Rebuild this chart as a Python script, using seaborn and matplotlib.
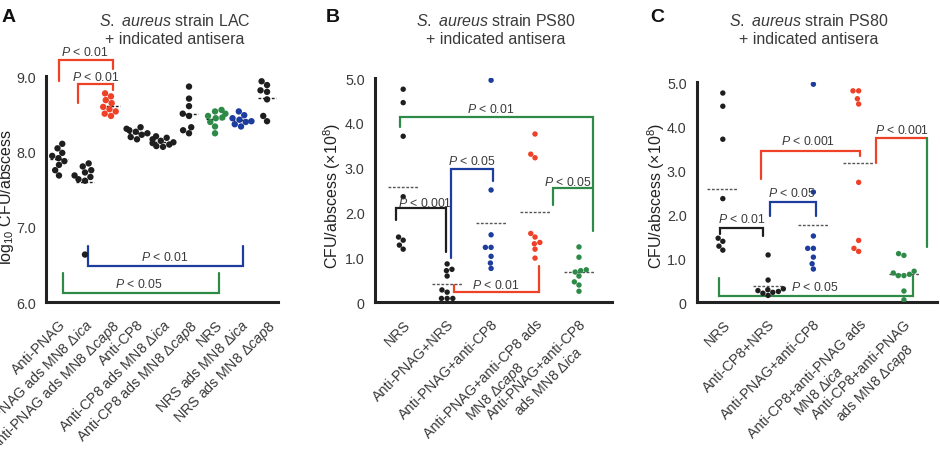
import numpy as np
import pandas as pd
import seaborn as sns
import matplotlib.pyplot as plt

sns.set_style('white')
plt.rcParams['font.family'] = ['Liberation Sans', 'DejaVu Sans']
plt.rcParams['mathtext.fontset'] = 'custom'
plt.rcParams['mathtext.rm'] = 'Liberation Sans'
plt.rcParams['mathtext.it'] = 'Liberation Sans:italic'

BLACK = '#1e1e1e'
RED = '#ee4128'
BLUE = '#1c3c9e'
GREEN = '#2e8b47'
TXT = '#3a3a3a'

# ---- panel A: strain LAC, log10 CFU/abscess
a_labels = ['Anti-PNAG', r'Anti-PNAG ads MN8 Δ$\it{ica}$', r'Anti-PNAG ads MN8 Δ$\it{cap8}$',
            'Anti-CP8', r'Anti-CP8 ads MN8 Δ$\it{ica}$', r'Anti-CP8 ads MN8 Δ$\it{cap8}$',
            'NRS', r'NRS ads MN8 Δ$\it{ica}$', r'NRS ads MN8 Δ$\it{cap8}$']
a_colors = [BLACK, BLACK, RED, BLACK, BLACK, BLACK, GREEN, BLUE, BLACK]
a_values = [[8.10, 8.04, 7.98, 7.94, 7.91, 7.87, 7.82, 7.75, 7.68],
            [7.84, 7.80, 7.75, 7.72, 7.68, 7.66, 7.63, 7.61, 6.63],
            [8.77, 8.73, 8.68, 8.64, 8.59, 8.56, 8.53, 8.50, 8.47],
            [8.32, 8.30, 8.28, 8.26, 8.24, 8.22, 8.19, 8.16],
            [8.20, 8.18, 8.16, 8.14, 8.12, 8.11, 8.09, 8.07, 8.06],
            [8.86, 8.70, 8.60, 8.50, 8.47, 8.32, 8.28, 8.24],
            [8.55, 8.53, 8.50, 8.47, 8.45, 8.44, 8.39, 8.33, 8.24],
            [8.53, 8.48, 8.44, 8.42, 8.40, 8.39, 8.36, 8.33],
            [8.93, 8.88, 8.81, 8.79, 8.69, 8.47, 8.40]]

# ---- panel B: strain PS80, CFU/abscess (x10^8)
b_labels = ['NRS', 'Anti-PNAG+NRS', 'Anti-PNAG+anti-CP8',
            'Anti-PNAG+anti-CP8 ads\n' + r'MN8 Δ$\it{cap8}$',
            'Anti-PNAG+anti-CP8\n' + r'ads MN8 Δ$\it{ica}$']
b_colors = [BLACK, BLACK, BLUE, RED, GREEN]
b_values = [[4.75, 4.45, 3.70, 2.35, 1.45, 1.38, 1.27, 1.18],
            [0.85, 0.73, 0.70, 0.58, 0.27, 0.22, 0.08, 0.08, 0.08],
            [4.95, 2.50, 1.50, 1.22, 1.22, 1.02, 0.87, 0.75],
            [3.75, 3.30, 3.22, 1.53, 1.45, 1.33, 1.30, 1.18, 0.98],
            [1.23, 1.00, 0.72, 0.70, 0.67, 0.58, 0.45, 0.38, 0.24]]

# ---- panel C: strain PS80, CFU/abscess (x10^8)
c_labels = ['NRS', 'Anti-CP8+NRS', 'Anti-PNAG+anti-CP8',
            'Anti-CP8+anti-PNAG ads\n' + r'MN8 Δ$\it{ica}$',
            'Anti-CP8+anti-PNAG\n' + r'ads MN8 Δ$\it{cap8}$']
c_colors = [BLACK, BLACK, BLUE, RED, GREEN]
c_values = [[4.75, 4.45, 3.70, 2.35, 1.45, 1.38, 1.27, 1.18],
            [1.07, 0.50, 0.30, 0.28, 0.26, 0.24, 0.22, 0.20, 0.15],
            [4.95, 2.50, 1.50, 1.22, 1.22, 1.02, 0.87, 0.75],
            [4.80, 4.80, 4.62, 4.50, 2.72, 1.40, 1.22, 1.15],
            [1.10, 1.06, 0.70, 0.66, 0.63, 0.60, 0.60, 0.25, 0.05]]


def to_frame(values):
    rows = [(str(i), v) for i, grp in enumerate(values) for v in grp]
    return pd.DataFrame(rows, columns=['grp', 'val'])


def scatter_panel(ax, values, colors, labels, dot, meancol):
    df = to_frame(values)
    sns.swarmplot(data=df, x='grp', y='val', hue='grp', palette=colors,
                  size=dot, legend=False, ax=ax, linewidth=0, warn_thresh=1)
    means = df.groupby('grp', sort=False)['val'].mean().values
    xs = np.arange(len(means))
    ax.hlines(means, xs - 0.34, xs + 0.34, colors=meancol, lw=1.0,
              linestyles=(0, (2, 1.2)), zorder=1)
    ax.set_xticks(xs)
    ax.set_xticklabels(labels, rotation=45, ha='right', rotation_mode='anchor',
                       fontsize=10.3, multialignment='center')
    for t, c in zip(ax.get_xticklabels(), colors):
        t.set_color(TXT if c == BLACK else c)
    ax.set_xlabel('')
    sns.despine(ax=ax)
    for s in ['left', 'bottom']:
        ax.spines[s].set_linewidth(2.2)
        ax.spines[s].set_color('#222222')
    ax.tick_params(axis='both', direction='out', length=5.5, width=1.6,
                   color='#222222', labelcolor=TXT, labelsize=10.3)
    ax.tick_params(axis='x', pad=5)
    ax.tick_params(axis='y', pad=2)


def bracket(ax, x1, x2, y, y1, y2, color, label, tx, ty):
    ax.plot([x1, x1, x2, x2], [y1, y, y, y2], color=color, lw=1.6,
            clip_on=False, solid_joinstyle='miter')
    ax.text(tx, ty, label, ha='center', va='center', fontsize=8.8, color=TXT)


fig = plt.figure(figsize=(9.4, 4.52), dpi=100)
axA = fig.add_axes([0.0489, 0.3296, 0.2468, 0.5])
axB = fig.add_axes([0.399, 0.3296, 0.252, 0.4956])
axC = fig.add_axes([0.7415, 0.3296, 0.2553, 0.4867])

# panel A
scatter_panel(axA, a_values, a_colors, a_labels, 4.6, BLACK)
axA.set_ylim(6.0, 9.0)
axA.set_xlim(-0.5, 8.42)
axA.set_yticks([6.0, 7.0, 8.0, 9.0])
axA.set_yticklabels(['6.0', '7.0', '8.0', '9.0'])
axA.set_ylabel(r'log$_{10}$ CFU/abscess', fontsize=11.5, color='#222222')
axA.yaxis.set_label_coords(-0.128, 0.47)
bracket(axA, 0.0, 2.08, 9.21, 8.93, 9.09, RED, r'$P$ < 0.01', 1.0, 9.32)
bracket(axA, 0.73, 2.08, 8.90, 8.64, 8.81, RED, r'$P$ < 0.01', 1.4, 9.0)
bracket(axA, 1.12, 7.08, 6.48, 6.74, 6.74, BLUE, r'$P$ < 0.01', 4.08, 6.60)
bracket(axA, 0.15, 6.15, 6.12, 6.38, 6.38, GREEN, r'$P$ < 0.05', 3.05, 6.24)

# panel B
scatter_panel(axB, b_values, b_colors, b_labels, 3.9, '#555555')
axB.set_ylim(0, 5.0)
axB.set_xlim(-0.64, 4.75)
axB.set_yticks([0, 1, 2, 3, 4, 5])
axB.set_yticklabels(['0', '1.0', '2.0', '3.0', '4.0', '5.0'])
axB.set_ylabel(r'CFU/abscess (×10$^{8}$)', fontsize=11.5, color='#222222')
axB.yaxis.set_label_coords(-0.135, 0.48)
bracket(axB, -0.07, 4.32, 4.12, 3.91, 1.58, GREEN, r'$P$ < 0.01', 2.0, 4.31)
bracket(axB, 1.09, 2.05, 2.98, 0.98, 2.70, BLUE, r'$P$ < 0.05', 1.57, 3.15)
bracket(axB, -0.16, 0.98, 2.09, 1.84, 1.11, BLACK, r'$P$ < 0.001', 0.5, 2.23)
bracket(axB, 1.16, 3.09, 0.22, 0.38, 0.81, RED, r'$P$ < 0.01', 2.11, 0.38)
bracket(axB, 3.41, 4.32, 2.54, 2.17, 2.54, GREEN, r'$P$ < 0.05', 3.75, 2.68)

# panel C
scatter_panel(axC, c_values, c_colors, c_labels, 3.9, '#555555')
axC.set_ylim(0, 5.0)
axC.set_xlim(-0.57, 4.73)
axC.set_yticks([0, 1, 2, 3, 4, 5])
axC.set_yticklabels(['0', '1.0', '2.0', '3.0', '4.0', '5.0'])
axC.set_ylabel(r'CFU/abscess (×10$^{8}$)', fontsize=11.5, color='#222222')
axC.yaxis.set_label_coords(-0.125, 0.486)
bracket(axC, -0.07, 0.88, 1.68, 1.55, 1.50, BLACK, r'$P$ < 0.01', 0.42, 1.89)
bracket(axC, 1.04, 2.06, 2.27, 1.96, 1.96, BLUE, r'$P$ < 0.05', 1.52, 2.50)
bracket(axC, 0.84, 3.03, 3.44, 2.80, 3.31, RED, r'$P$ < 0.001', 1.88, 3.66)
bracket(axC, 3.38, 4.51, 3.72, 3.16, 3.72, RED, r'$P$ < 0.001', 3.96, 3.93)
axC.plot([4.51, 4.51], [3.72, 1.24], color=GREEN, lw=1.6, clip_on=False)
bracket(axC, -0.09, 4.2, 0.14, 0.54, 0.60, GREEN, r'$P$ < 0.05', 2.03, 0.36)

# titles and panel letters
for x, strain in [(175, 'LAC'), (496, 'PS80'), (809, 'PS80')]:
    fig.text(x / 940, 1 - 21 / 452, r'$\mathit{S.\ aureus}$ strain ' + strain,
             ha='center', va='center', fontsize=11.5, color=TXT)
    fig.text(x / 940, 1 - 40 / 452, '+ indicated antisera',
             ha='center', va='center', fontsize=11.5, color=TXT)
for x, letter in [(2, 'A'), (326, 'B'), (650, 'C')]:
    fig.text(x / 940, 1 - 17 / 452, letter, ha='left', va='center',
             fontsize=14, fontweight='bold', color='#111111')

fig.savefig('out.png', dpi=100)
